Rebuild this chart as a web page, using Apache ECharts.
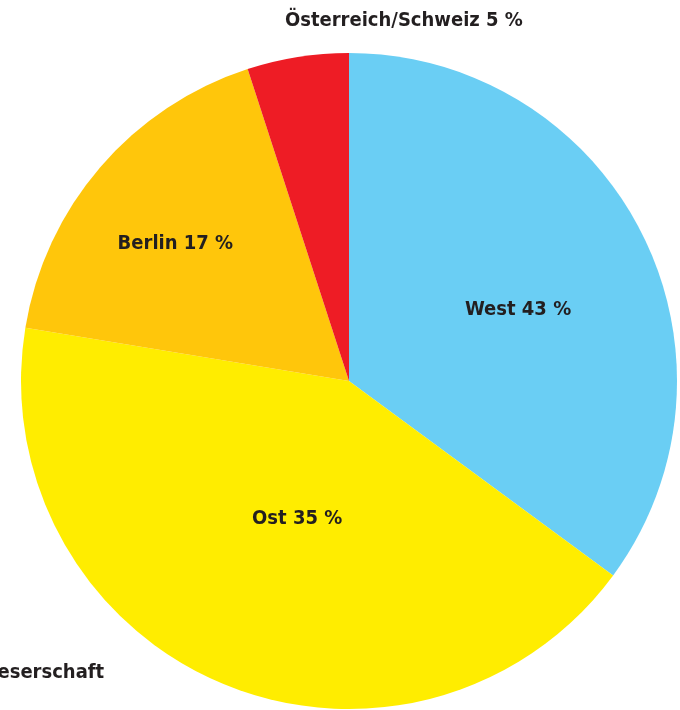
<!DOCTYPE html>
<html>
<head>
<meta charset="utf-8">
<script src="https://cdn.jsdelivr.net/npm/echarts@6/dist/echarts.min.js"></script>
<style>
  html, body { margin: 0; padding: 0; background: #fff; }
  #chart { width: 680px; height: 710px; }
</style>
</head>
<body>
<div id="chart"></div>
<script>
// Regionen im Uhrzeigersinn ab 12 Uhr
var regions = ['West', 'Ost', 'Berlin', 'Österreich/Schweiz']
// beschriftete Anteile (Prozent)
var shares = [43, 35, 17, 5]
// Segmentgrößen, wie sie im Bild gezeichnet sind
var sliceValues = [35.1, 42.5, 17.4, 5.0]
var colors = ['#6ACEF4', '#FFED00', '#FFC60B', '#EE1C25']
var titleText = 'Leserschaft'

var fontFamily = '"DejaVu Sans Condensed", "Liberation Sans Narrow", sans-serif'
// Verschiebung der Beschriftungen gegenüber der Segmentmitte
var labelOffsets = [[20, 4], [13, -16], [-47, -28], [81, -195]]

var chart = echarts.init(document.getElementById('chart'))
chart.setOption({
  backgroundColor: '#fff',
  animation: false,
  title: {
    text: titleText,
    left: -14,
    top: 663,
    padding: 0,
    textStyle: {
      color: '#231F20',
      fontFamily: fontFamily,
      fontWeight: 'bold',
      fontSize: 20
    }
  },
  series: [
    {
      type: 'pie',
      center: [349, 381],
      radius: 328, // Radius in px
      startAngle: 90,
      clockwise: true,
      avoidLabelOverlap: false,
      itemStyle: { borderWidth: 0 },
      label: {
        show: true,
        position: 'inside',
        color: '#231F20',
        fontFamily: fontFamily,
        fontWeight: 'bold',
        fontSize: 20,
        formatter: function (p) {
          return regions[p.dataIndex] + ' ' + shares[p.dataIndex] + ' %'
        }
      },
      labelLine: { show: false },
      emphasis: { disabled: true },
      data: regions.map(function (name, i) {
        return {
          name: name,
          value: sliceValues[i],
          itemStyle: { color: colors[i] },
          label: { offset: labelOffsets[i] }
        }
      })
    }
  ]
})
</script>
</body>
</html>
